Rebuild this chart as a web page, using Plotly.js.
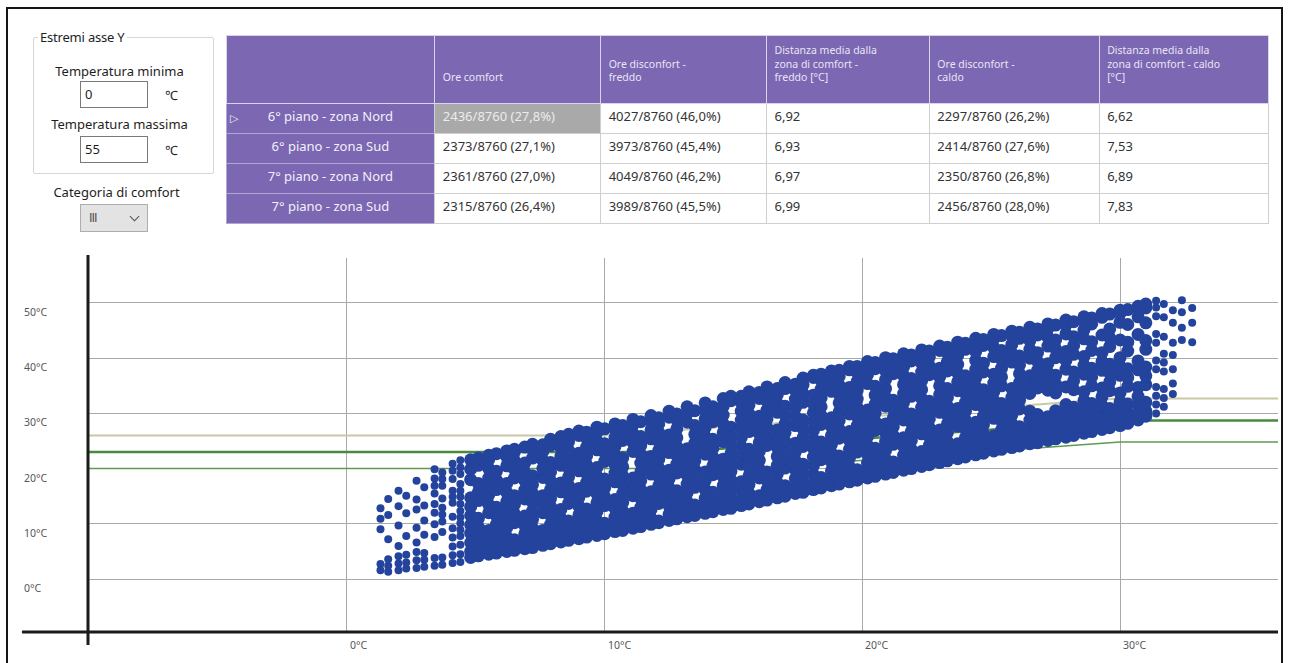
<!DOCTYPE html>
<html lang="it">
<head>
<meta charset="utf-8">
<title>Analisi comfort adattivo</title>
<script src="https://cdn.plot.ly/plotly-3.0.1.min.js"></script>
<style>
  html, body { margin: 0; padding: 0; background: #fff; }
  body { width: 1289px; height: 663px; position: relative; overflow: hidden;
         font-family: "Noto Sans", "Open Sans", sans-serif; color: #1e1e1e; }
  #grafico { position: absolute; left: 0; top: 0; width: 1289px; height: 663px; }
  .cornice { position: absolute; left: 6px; top: 7px; width: 1277px; height: 664px;
             border: 2px solid #151515; box-sizing: border-box; pointer-events: none; }
  .gruppo { position: absolute; left: 33px; top: 37px; width: 181px; height: 137px;
            border: 1px solid #d6d6d6; border-radius: 2px; box-sizing: border-box; }
  .legenda { position: absolute; left: 38px; top: 29px; padding: 0 2px; background: #fff;
             font-size: 13px; line-height: 16px; letter-spacing: -0.2px; }
  .etichetta { position: absolute; font-size: 13px; line-height: 16px; text-align: center;
               width: 181px; left: 29px; }
  .campo { position: absolute; left: 80px; width: 68px; height: 27px; border: 1px solid #7a7a7a;
           box-sizing: border-box; font-size: 13px; line-height: 25px; padding-left: 4px; background: #fff; }
  .unita { position: absolute; left: 165px; font-size: 13px; line-height: 16px; }
  .combo { position: absolute; left: 80px; top: 204px; width: 68px; height: 28px;
           background: #e3e3e3; border: 1px solid #adadad; box-sizing: border-box; }
  .combo .val { position: absolute; left: 8px; top: 5px; font-size: 12px; line-height: 16px; color: #555;
                font-family: "DejaVu Sans", sans-serif; letter-spacing: -1px; }
  .combo .freccia { position: absolute; left: 50px; top: 8px; width: 6px; height: 6px;
                    border-right: 1.3px solid #555; border-bottom: 1.3px solid #555; transform: rotate(45deg); }
</style>
</head>
<body>
<div id="grafico"></div>

<div class="gruppo"></div>
<div class="legenda">Estremi asse Y</div>
<div class="etichetta" style="top:63px">Temperatura minima</div>
<div class="campo" style="top:81px">0</div>
<div class="unita" style="top:87px">℃</div>
<div class="etichetta" style="top:116px">Temperatura massima</div>
<div class="campo" style="top:136px">55</div>
<div class="unita" style="top:142px">℃</div>
<div class="etichetta" style="top:184px; left:26px">Categoria di comfort</div>
<div class="combo"><span class="val">III</span><span class="freccia"></span></div>
<div class="cornice"></div>

<script>
// ---- Tabella riepilogativa ----
const intestazioni = ['', '\u00a0<br>\u00a0<br>Ore comfort', '\u00a0<br>Ore disconfort -<br>freddo',
  'Distanza media dalla<br>zona di comfort -<br>freddo [°C]', '\u00a0<br>Ore disconfort -<br>caldo',
  'Distanza media dalla<br>zona di comfort - caldo<br>[°C]'];
const zone = ['6° piano - zona Nord', '6° piano - zona Sud', '7° piano - zona Nord', '7° piano - zona Sud'];
const oreComfort = ['2436/8760 (27,8%)', '2373/8760 (27,1%)', '2361/8760 (27,0%)', '2315/8760 (26,4%)'];
const oreFreddo = ['4027/8760 (46,0%)', '3973/8760 (45,4%)', '4049/8760 (46,2%)', '3989/8760 (45,5%)'];
const distFreddo = ['6,92', '6,93', '6,97', '6,99'];
const oreCaldo = ['2297/8760 (26,2%)', '2414/8760 (27,6%)', '2350/8760 (26,8%)', '2456/8760 (28,0%)'];
const distCaldo = ['6,62', '7,53', '6,89', '7,83'];

// ---- Assi ----
const tickX = [0, 10, 20, 30];
const tickY = [0, 10, 20, 30, 40, 50];

// ---- Limiti della fascia di comfort (categoria III) ----
const limiteX = [-15, 10, 30, 40];
const limiteSup = [26.0, 26.0, 32.7, 32.7];
const limiteMedX = [-15, 12.7, 30, 40];
const limiteMed = [23.0, 23.0, 28.7, 28.7];
const limiteInfX = [-15, 15.5, 30, 40];
const limiteInf = [20.0, 20.0, 24.8, 24.8];

// ---- Temperature orarie: ogni riga = [temperatura media mobile esterna, temperature interne...] ----
// estremo freddo, punti radi
const codaFredda = [
  [1.3, 1.6, 2.7, 9.0, 10.9, 12.8],
  [1.6, 1.3, 2.4, 3.6, 7.2, 11.6, 14.5],
  [2.0, 1.6, 2.8, 4.1, 6.0, 9.7, 13.2, 16.0],
  [2.3, 1.9, 3.0, 4.4, 7.8, 11.9, 15.1],
  [2.7, 2.0, 3.4, 4.9, 6.6, 9.3, 12.6, 14.4, 17.8],
  [3.0, 2.2, 3.5, 4.7, 8.0, 10.6, 13.3, 16.6],
  [3.4, 2.4, 3.8, 7.6, 9.9, 12.0, 13.6, 15.5, 16.9, 18.2, 19.9],
  [3.7, 2.6, 3.9, 8.5, 10.4, 11.7, 12.9, 14.6, 16.9, 18.1, 19.3],
  [4.1, 2.9, 4.3, 5.9, 7.5, 9.2, 11.3, 13.8, 14.9, 16.0, 18.1, 19.6, 20.9],
  [4.4, 3.1, 4.5, 6.2, 7.8, 8.9, 10.1, 11.2, 12.3, 13.6, 14.9, 16.0, 17.2, 19.0, 20.2, 21.5]
];
const nuvola1 = [
  [4.8, 3.9, 5.0, 6.6, 8.3, 9.8, 11.5, 13.1, 14.7, 18.0, 19.9, 21.6],
  [5.1, 4.2, 4.5, 6.1, 7.8, 9.4, 11.0, 14.2, 15.8, 17.3, 20.6, 21.9],
  [5.5, 4.5, 5.5, 7.1, 8.8, 12.0, 13.5, 15.2, 16.8, 18.3, 20.0, 21.6, 22.4],
  [5.8, 4.7, 5.0, 6.6, 8.2, 9.9, 11.4, 13.0, 16.2, 17.9, 19.5, 22.7],
  [6.2, 5.0, 6.1, 7.6, 9.3, 10.9, 12.4, 14.0, 15.7, 17.3, 20.5, 22.1, 23.2],
  [6.5, 5.2, 5.5, 7.1, 10.2, 11.8, 13.5, 15.1, 18.3, 19.9, 21.4, 23.0, 23.5],
  [6.9, 5.5, 6.6, 8.2, 9.7, 11.4, 14.5, 16.1, 17.8, 19.3, 21.0, 23.9],
  [7.2, 5.7, 6.0, 7.6, 9.2, 10.8, 12.3, 13.9, 15.5, 17.1, 18.7, 21.9, 23.5, 24.4],
  [7.6, 6.1, 7.2, 8.8, 12.0, 13.6, 15.1, 18.4, 20.0, 21.5, 23.1, 24.3],
  [7.9, 6.4, 6.7, 8.3, 9.9, 11.5, 13.1, 14.6, 16.2, 17.8, 19.4, 21.1, 24.2, 25.3],
  [8.3, 6.7, 7.8, 9.4, 11.0, 12.6, 15.8, 17.4, 20.6, 22.2, 23.8, 25.4, 25.8],
  [8.6, 7.0, 7.3, 8.9, 10.5, 13.7, 15.3, 16.9, 18.5, 20.1, 21.7, 23.3, 24.9, 26.2]
];
const nuvola2 = [
  [9.0, 7.3, 8.4, 10.0, 11.6, 13.2, 14.8, 16.4, 19.6, 21.2, 22.8, 26.0, 26.8],
  [9.3, 7.6, 7.9, 9.5, 11.1, 12.7, 15.9, 17.5, 19.1, 20.7, 22.3, 23.9, 25.5, 26.6],
  [9.7, 7.9, 9.0, 10.6, 12.2, 13.8, 15.4, 17.0, 18.6, 20.2, 23.4, 25.0, 26.6, 27.5],
  [10.0, 8.2, 8.5, 10.1, 13.3, 14.9, 16.5, 18.1, 21.3, 22.9, 24.5, 27.2],
  [10.4, 8.6, 9.6, 11.2, 12.8, 14.4, 17.6, 19.2, 20.8, 22.4, 24.0, 25.6, 27.2, 28.1],
  [10.7, 8.8, 9.1, 10.7, 12.3, 13.9, 15.5, 17.1, 18.7, 20.3, 21.9, 25.1, 26.7, 27.8],
  [11.1, 9.2, 10.3, 11.9, 15.1, 16.7, 18.3, 23.1, 24.7, 26.3, 27.9, 28.9],
  [11.4, 9.5, 9.8, 11.4, 13.0, 14.6, 16.2, 17.8, 19.4, 21.0, 22.6, 24.2, 25.8, 28.5],
  [11.8, 9.9, 11.0, 12.6, 14.2, 15.8, 19.0, 20.6, 22.2, 25.4, 27.0, 28.6, 29.6],
  [12.1, 10.2, 10.5, 13.7, 15.3, 16.9, 18.5, 20.1, 21.7, 23.3, 24.9, 26.5, 28.1, 29.2],
  [12.5, 10.6, 11.7, 13.3, 14.9, 16.5, 18.1, 19.7, 22.9, 24.5, 26.1, 29.3, 30.4],
  [12.8, 10.9, 11.2, 12.8, 14.4, 16.0, 19.2, 20.8, 22.4, 24.0, 25.6, 27.2, 28.8, 29.9],
  [13.2, 11.3, 12.4, 14.0, 15.6, 17.2, 18.8, 20.4, 22.0, 23.6, 28.4, 30.0, 31.2],
  [13.5, 11.5, 11.8, 13.4, 16.6, 18.2, 19.8, 21.4, 23.0, 24.6, 26.2, 27.8, 30.5],
  [13.9, 11.9, 13.0, 14.6, 16.2, 17.8, 19.4, 22.6, 24.2, 25.8, 27.4, 29.0, 30.6, 31.9],
  [14.2, 12.2, 12.5, 14.1, 15.7, 18.9, 20.5, 22.1, 23.7, 25.3, 28.5, 30.1, 31.2],
  [14.6, 12.6, 13.7, 15.3, 16.9, 18.5, 20.1, 21.7, 24.9, 26.5, 28.1, 29.7, 31.3, 32.7],
  [14.9, 12.8, 13.1, 14.7, 16.3, 17.9, 19.5, 21.1, 22.7, 24.3, 25.9, 27.5, 32.3, 33.1],
  [15.3, 13.3, 14.4, 16.0, 17.6, 20.8, 22.4, 24.0, 25.6, 27.2, 28.8, 30.4, 32.0, 33.1],
  [15.6, 13.6, 13.9, 15.5, 17.1, 18.7, 20.3, 21.9, 23.5, 26.7, 28.3, 29.9, 31.5, 33.1, 33.9],
  [16.0, 14.0, 15.1, 18.3, 19.9, 21.5, 23.1, 24.7, 26.3, 27.9, 29.5, 32.7, 33.8],
  [16.3, 14.3, 14.6, 16.2, 17.8, 19.4, 24.2, 25.8, 27.4, 29.0, 30.6, 32.2, 33.8, 34.8]
];
const nuvola3 = [
  [16.7, 14.7, 15.8, 17.4, 19.0, 20.6, 22.2, 23.8, 25.4, 27.0, 30.2, 31.8, 33.4, 34.5],
  [17.0, 15.0, 15.3, 16.9, 20.1, 21.7, 23.3, 24.9, 26.5, 28.1, 29.7, 31.3, 34.5, 35.6],
  [17.4, 15.5, 16.6, 18.2, 19.8, 21.4, 23.0, 24.6, 27.8, 29.4, 31.0, 32.6, 34.2, 35.3],
  [17.7, 15.7, 16.0, 17.6, 19.2, 20.8, 24.0, 25.6, 27.2, 28.8, 32.0, 33.6, 35.2, 36.4],
  [18.1, 16.2, 17.3, 18.9, 20.5, 22.1, 23.7, 25.3, 26.9, 28.5, 30.1, 31.7, 33.3, 36.5, 36.9],
  [18.4, 16.5, 16.8, 18.4, 21.6, 23.2, 24.8, 28.0, 29.6, 31.2, 32.8, 34.4, 36.0, 37.1],
  [18.8, 16.9, 18.0, 19.6, 21.2, 22.8, 24.4, 26.0, 27.6, 29.2, 34.0, 35.6, 37.2, 37.7],
  [19.1, 17.2, 17.5, 19.1, 20.7, 22.3, 25.5, 27.1, 28.7, 30.3, 31.9, 33.5, 35.1, 36.7, 37.8],
  [19.5, 17.6, 18.7, 20.3, 21.9, 23.5, 25.1, 26.7, 29.9, 31.5, 33.1, 34.7, 37.9, 38.5],
  [19.8, 17.9, 18.2, 19.8, 23.0, 24.6, 26.2, 27.8, 29.4, 31.0, 32.6, 34.2, 35.8, 37.4, 38.5],
  [20.2, 18.3, 19.4, 21.0, 22.6, 24.2, 25.8, 27.4, 29.0, 30.6, 35.4, 37.0, 38.6, 39.4],
  [20.5, 18.6, 18.9, 20.5, 22.1, 23.7, 26.9, 28.5, 30.1, 31.7, 33.3, 34.9, 38.1, 39.2],
  [20.9, 19.0, 20.1, 21.7, 23.3, 24.9, 26.5, 28.1, 31.3, 32.9, 34.5, 36.1, 37.7, 39.3, 40.1],
  [21.2, 19.3, 19.6, 21.2, 24.4, 26.0, 27.6, 29.2, 30.8, 32.4, 37.2, 38.8, 39.9],
  [21.6, 19.7, 20.8, 22.4, 24.0, 25.6, 28.8, 30.4, 32.0, 33.6, 35.2, 36.8, 38.4, 40.0, 40.8],
  [21.9, 20.0, 20.3, 21.9, 23.5, 25.1, 26.7, 28.3, 29.9, 33.1, 34.7, 36.3, 39.5, 40.6],
  [22.3, 20.4, 21.5, 23.1, 26.3, 27.9, 29.5, 31.1, 32.7, 34.3, 35.9, 37.5, 39.1, 40.7, 41.5],
  [22.6, 20.7, 21.0, 22.6, 24.2, 25.8, 27.4, 29.0, 30.6, 32.2, 37.0, 38.6, 40.2, 41.3],
  [23.0, 21.1, 22.2, 23.8, 25.4, 27.0, 30.2, 31.8, 33.4, 35.0, 36.6, 38.2, 41.4, 42.2],
  [23.3, 21.4, 21.7, 23.3, 24.9, 26.5, 28.1, 29.7, 31.3, 32.9, 34.5, 37.7, 39.3, 40.9, 42.0],
  [23.7, 21.8, 22.9, 24.5, 27.7, 29.3, 30.9, 34.1, 35.7, 37.3, 38.9, 40.5, 42.1, 42.9],
  [24.0, 22.1, 22.4, 24.0, 25.6, 27.2, 28.8, 30.4, 32.0, 33.6, 35.2, 36.8, 41.6, 42.7]
];
const nuvola4 = [
  [24.4, 22.5, 23.6, 25.2, 26.8, 28.4, 31.6, 33.2, 34.8, 36.4, 38.0, 39.6, 41.2, 42.8, 43.6],
  [24.7, 22.8, 23.1, 24.7, 26.3, 27.9, 29.5, 31.1, 32.7, 34.3, 37.5, 39.1, 42.3, 43.4],
  [25.1, 23.2, 24.3, 25.9, 29.1, 30.7, 32.3, 33.9, 35.5, 37.1, 40.3, 41.9, 43.5, 44.3],
  [25.4, 23.5, 23.8, 25.4, 27.0, 28.6, 30.2, 31.8, 35.0, 36.6, 38.2, 39.8, 41.4, 44.1],
  [25.8, 23.8, 24.9, 26.5, 28.1, 29.7, 31.3, 32.9, 34.5, 39.3, 40.9, 42.5, 44.1, 44.9],
  [26.1, 24.1, 24.4, 26.0, 27.6, 30.8, 32.4, 34.0, 35.6, 37.2, 38.8, 40.4, 43.6, 44.7],
  [26.5, 24.5, 25.6, 27.2, 28.8, 30.4, 33.6, 35.2, 36.8, 40.0, 41.6, 43.2, 44.8, 45.6],
  [26.8, 24.7, 25.0, 26.6, 28.2, 29.8, 34.6, 36.2, 37.8, 39.4, 41.0, 44.2, 45.3],
  [27.2, 25.1, 26.2, 27.8, 29.4, 34.2, 35.8, 37.4, 39.0, 42.2, 43.8, 45.4, 46.2],
  [27.5, 25.4, 25.7, 27.3, 28.9, 30.5, 33.7, 35.3, 36.9, 40.1, 41.7, 43.3, 46.0],
  [27.9, 25.7, 26.8, 28.4, 30.0, 31.6, 34.8, 38.0, 39.6, 41.2, 44.4, 46.0, 46.9],
  [28.2, 26.0, 26.3, 27.9, 29.5, 31.1, 34.3, 35.9, 37.5, 40.7, 42.3, 43.9, 46.6],
  [28.6, 26.4, 27.5, 29.1, 30.7, 32.3, 33.9, 37.1, 38.7, 40.3, 43.5, 45.1, 46.7, 47.5],
  [28.9, 26.7, 27.0, 28.6, 30.2, 31.8, 35.0, 36.6, 38.2, 41.4, 43.0, 46.2, 47.3],
  [29.3, 27.1, 28.2, 29.8, 31.4, 33.0, 34.6, 37.8, 39.4, 41.0, 44.2, 47.4, 48.1],
  [29.6, 27.4, 27.7, 29.3, 30.9, 34.1, 35.7, 37.3, 38.9, 42.1, 43.7, 45.3, 48.0],
  [30.0, 27.8, 28.9, 30.5, 32.1, 33.7, 36.9, 38.5, 40.1, 43.3, 46.5, 48.1, 48.7],
  [30.3, 28.2, 28.5, 30.1, 31.7, 34.9, 36.5, 38.1, 41.3, 42.9, 46.1, 48.8],
  [30.7, 28.8, 29.9, 31.5, 33.1, 34.7, 37.9, 39.5, 44.3, 47.5, 49.1, 49.4],
  [31.0, 29.5, 30.4, 32.0, 35.2, 36.8, 38.4, 41.6, 43.2, 46.4, 49.1, 49.8]
];
// estremo caldo, punti radi
const puntaCalda = [
  [31.4, 30.0, 31.6, 33.2, 34.8, 38.0, 39.6, 42.8, 44.4, 47.6, 49.2, 50.4],
  [31.7, 31.2, 32.8, 34.4, 37.6, 39.2, 40.8, 43.9, 47.4, 49.8],
  [32.05, 33.5, 35.4, 38.0, 40.6, 42.8, 46.4, 48.7],
  [32.4, 43.3, 45.5, 48.3, 50.5],
  [32.8, 42.9, 46.4, 49.1]
];

// Trasforma le righe in coppie (x, y) per il grafico a dispersione
function espandi(gruppi) {
  const xs = [], ys = [];
  gruppi.forEach(g => g.forEach(riga => {
    for (let i = 1; i < riga.length; i++) { xs.push(riga[0]); ys.push(riga[i]); }
  }));
  return { xs, ys };
}
const densi = espandi([nuvola1, nuvola2, nuvola3, nuvola4]);
const radi = espandi([codaFredda, puntaCalda]);

// ---- Stili ----
const viola = '#7b67b2';
const blu = '#24439d';
const testoHeader = '#e9e5f5';
const testoCelle = '#333333';

const colonneValori = [zone, oreComfort, oreFreddo, distFreddo, oreCaldo, distCaldo];
const riempimento = colonneValori.map((col, c) => col.map((_, r) =>
  c === 0 ? viola : (c === 1 && r === 0 ? '#a9a9a9' : '#ffffff')));
const coloreTesto = colonneValori.map((col, c) => col.map((_, r) =>
  c === 0 ? '#f2f0fa' : (c === 1 && r === 0 ? '#ececec' : testoCelle)));

const tabella = {
  type: 'table',
  domain: { x: [226 / 1289, 1268 / 1289], y: [1 - 224 / 663, 1 - 35 / 663] },
  columnwidth: [209, 166, 166, 163, 170, 169],
  header: {
    values: intestazioni,
    height: 68,
    align: 'left',
    fill: { color: viola },
    line: { color: '#d9d3ec', width: 1 },
    font: { family: 'Noto Sans, sans-serif', size: 10.5, color: testoHeader }
  },
  cells: {
    values: colonneValori,
    height: 30,
    align: ['center', 'left', 'left', 'left', 'left', 'left'],
    fill: { color: riempimento },
    line: { color: ['#b3a6d6', '#cfcfcf', '#cfcfcf', '#cfcfcf', '#cfcfcf', '#cfcfcf'], width: 1 },
    font: { family: 'Noto Sans, sans-serif', size: 13, color: coloreTesto }
  }
};

const linea = (x, y, colore, spessore) => ({
  type: 'scatter', mode: 'lines', x, y, hoverinfo: 'skip',
  line: { color: colore, width: spessore }
});

const nuvolaDensa = {
  type: 'scatter', mode: 'markers', x: densi.xs, y: densi.ys, hoverinfo: 'skip',
  marker: { color: blu, size: 13, line: { width: 0 } }
};
const nuvolaRada = {
  type: 'scatter', mode: 'markers', x: radi.xs, y: radi.ys, hoverinfo: 'skip',
  marker: { color: blu, size: 8, line: { width: 0 } }
};

const annotazioni = [];
tickY.forEach(v => annotazioni.push({
  xref: 'paper', yref: 'y', x: 22 / 1289, y: v, yshift: -9,
  text: v + '°C', showarrow: false, xanchor: 'left', yanchor: 'middle',
  font: { family: 'Noto Sans, sans-serif', size: 10.5, color: '#555' }
}));
tickX.forEach(v => annotazioni.push({
  xref: 'x', yref: 'paper', x: v, y: 1 - 645 / 663, xshift: 1,
  text: v + '°C', showarrow: false, xanchor: 'left', yanchor: 'middle',
  font: { family: 'Noto Sans, sans-serif', size: 10.5, color: '#555' }
}));
// indicatore di riga selezionata
annotazioni.push({
  xref: 'paper', yref: 'paper', x: 234 / 1289, y: 1 - 117 / 663, text: '▷', showarrow: false,
  xanchor: 'center', yanchor: 'middle', font: { size: 11, color: '#f2f0fa' }
});

const layout = {
  width: 1289, height: 663,
  margin: { l: 0, r: 0, t: 0, b: 0 },
  paper_bgcolor: '#ffffff', plot_bgcolor: '#ffffff',
  showlegend: false, hovermode: false,
  xaxis: {
    domain: [88 / 1289, 1278 / 1289], range: [-10.05, 36.13],
    tickvals: tickX, showticklabels: false, ticks: '',
    showgrid: true, gridcolor: '#a9a9a9', gridwidth: 1, zeroline: false, showline: false, fixedrange: true
  },
  yaxis: {
    domain: [1 - 632 / 663, 1 - 258 / 663], range: [-9.6, 58.15],
    tickvals: tickY, showticklabels: false, ticks: '',
    showgrid: true, gridcolor: '#a9a9a9', gridwidth: 1, zeroline: false, showline: false, fixedrange: true
  },
  shapes: [
    { type: 'line', xref: 'x domain', yref: 'y domain', x0: 0, x1: 0, y0: -0.035, y1: 1.008,
      line: { color: '#1b1b1b', width: 3 } },
    { type: 'line', xref: 'x domain', yref: 'y domain', x0: -0.0555, x1: 1, y0: 0, y1: 0,
      line: { color: '#1b1b1b', width: 3 } }
  ],
  annotations: annotazioni
};

Plotly.newPlot('grafico', [
  linea(limiteX, limiteSup, '#cac8a6', 2),
  linea(limiteMedX, limiteMed, '#4a8a3c', 2.5),
  linea(limiteInfX, limiteInf, '#5e9a50', 1.5),
  nuvolaRada,
  nuvolaDensa,
  tabella
], layout, { staticPlot: true, displayModeBar: false });
</script>
</body>
</html>
